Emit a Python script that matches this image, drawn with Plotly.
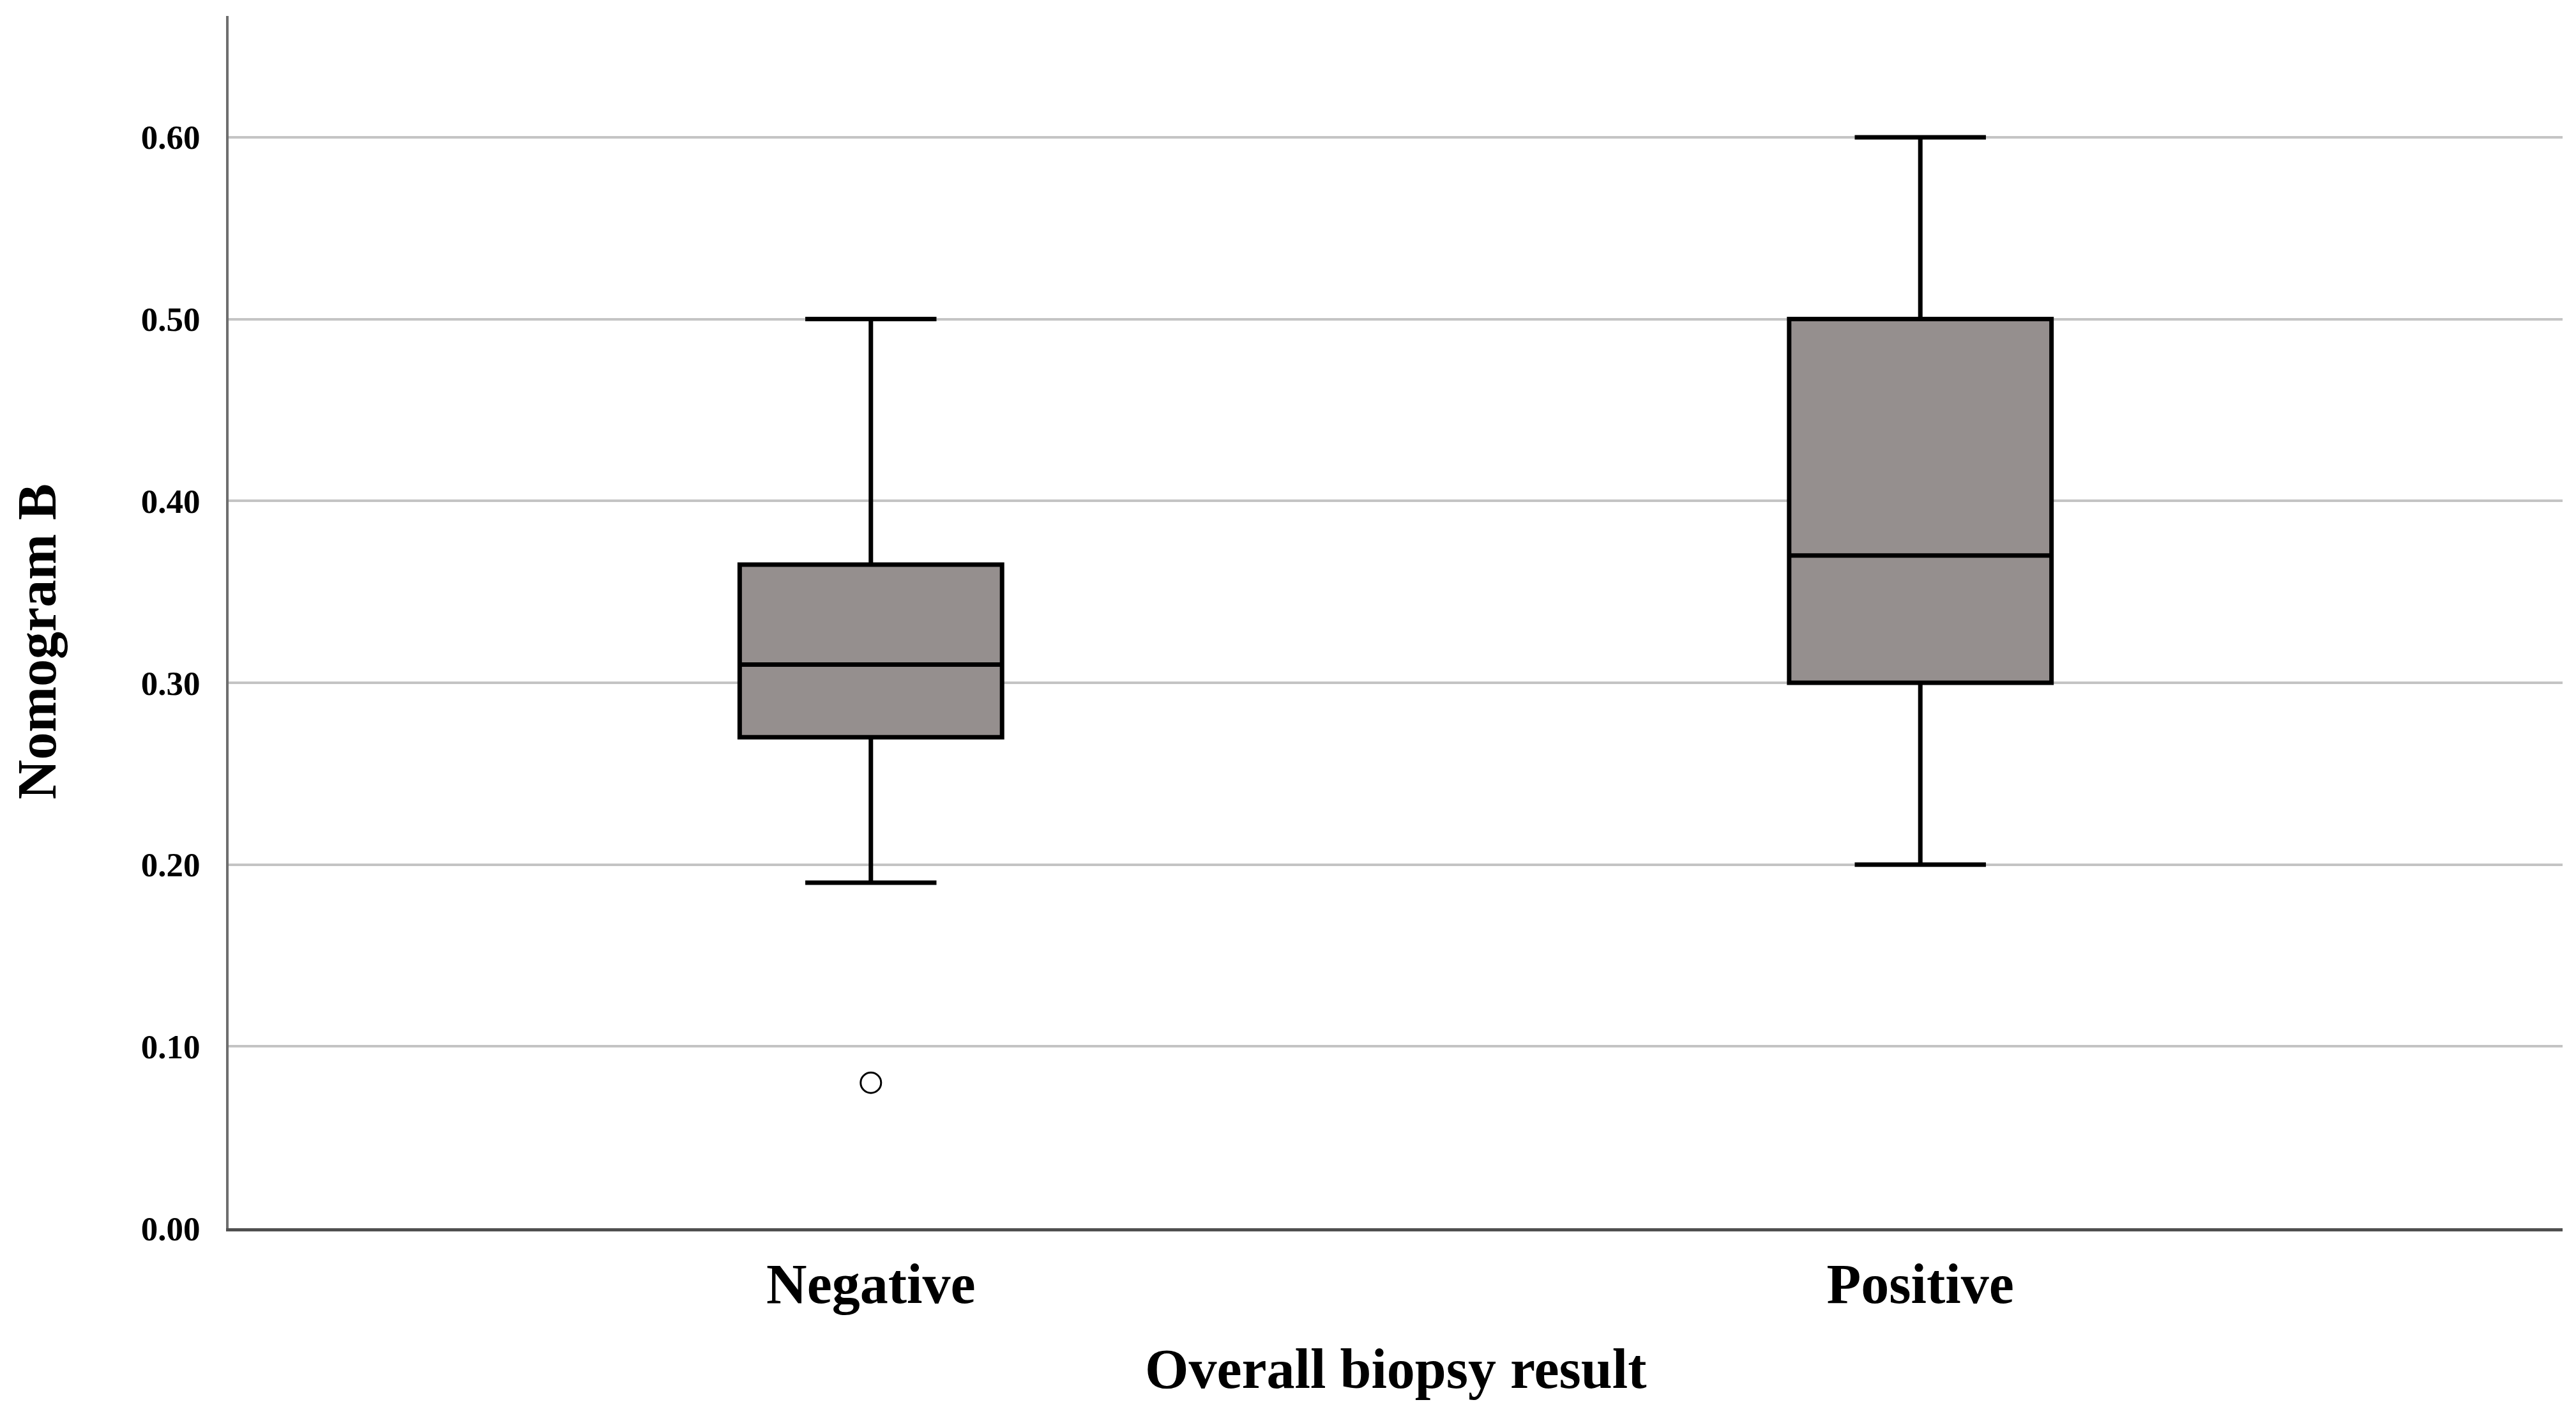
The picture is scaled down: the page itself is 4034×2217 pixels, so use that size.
import plotly.graph_objects as go

categories = ["Negative", "Positive"]
q1 = [0.27, 0.30]
median = [0.31, 0.37]
q3 = [0.365, 0.50]
lower_whisker = [0.19, 0.20]
upper_whisker = [0.50, 0.60]
outlier_cat = ["Negative"]
outlier_val = [0.08]
y_ticks = [0.0, 0.1, 0.2, 0.3, 0.4, 0.5, 0.6]

FONT = "Liberation Serif"

fig = go.Figure()
for i, c in enumerate(categories):
    fig.add_trace(go.Box(
        x=[c], q1=[q1[i]], median=[median[i]], q3=[q3[i]],
        lowerfence=[lower_whisker[i]], upperfence=[upper_whisker[i]],
        width=0.25, whiskerwidth=0.5,
        fillcolor="#958f8e", line=dict(color="black", width=7),
        boxpoints=False, showlegend=False, hoverinfo="skip",
    ))

fig.add_trace(go.Scatter(
    x=outlier_cat, y=outlier_val, mode="markers",
    marker=dict(symbol="circle-open", size=32, color="black", line=dict(width=3, color="black")),
    showlegend=False, hoverinfo="skip",
))

fig.update_layout(
    width=4034, height=2217,
    margin=dict(l=350, r=29, t=17, b=302),
    paper_bgcolor="white", plot_bgcolor="white",
    font=dict(family=FONT, color="black"),
    annotations=[
        dict(text="<b>Nomogram B</b>", xref="paper", yref="paper", x=-0.082, y=0.484,
             xanchor="center", yanchor="middle", textangle=-90, showarrow=False,
             font=dict(family=FONT, size=86, color="black")),
        dict(text="<b>Overall biopsy result</b>", xref="paper", yref="paper", x=0.5, y=-0.116,
             xanchor="center", yanchor="middle", showarrow=False,
             font=dict(family=FONT, size=88, color="black")),
    ],
)

fig.update_xaxes(
    type="category", categoryorder="array", categoryarray=categories,
    range=[-0.612, 1.612], showgrid=False, zeroline=False,
    showline=True, linecolor="#505050", linewidth=5,
    ticks="", tickfont=dict(family=FONT, size=88, color="black"),
    ticklabelstandoff=6,
    tickvals=categories, ticktext=["<b>Negative</b>", "<b>Positive</b>"],
)
fig.update_yaxes(
    range=[0, 0.6667], tickvals=y_ticks, tickformat=".2f",
    ticktext=[f"<b>{v:.2f}</b>" for v in y_ticks],
    showgrid=True, gridcolor="#c4c4c4", gridwidth=4, zeroline=False,
    showline=True, linecolor="#6e6e6e", linewidth=4,
    ticks="", tickfont=dict(family=FONT, size=53, color="black"),
    ticklabelstandoff=30,
)

fig.write_html("out.html")
